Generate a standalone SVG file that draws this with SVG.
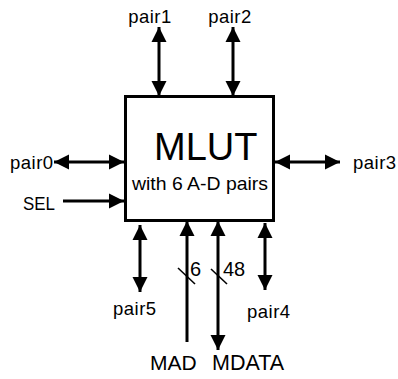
<svg xmlns="http://www.w3.org/2000/svg" width="398" height="379" viewBox="0 0 398 379">
  <style>
    .lbl { font-family: "Liberation Sans", Arial, sans-serif; fill: #000; }
    .pin { font-size: 18.5px; letter-spacing: 0.5px; }
    .wire { stroke: #000; stroke-width: 3; fill: none; }
    .slash { stroke: #000; stroke-width: 1.6; }
  </style>
  <defs>
    <marker id="head" markerUnits="userSpaceOnUse" markerWidth="16" markerHeight="16" viewBox="0 0 16 16" refX="15" refY="8" orient="auto-start-reverse">
      <path d="M0,0.5 L15,8 L0,15.5 Z" fill="#000"/>
    </marker>
  </defs>
  <rect width="398" height="379" fill="#fff"/>

  <g id="mlut">
    <rect x="125.5" y="96.5" width="148" height="124" fill="#fff" stroke="#000" stroke-width="3"/>
    <text class="lbl" x="154" y="160" font-size="38">MLUT</text>
    <text class="lbl" x="132" y="190" font-size="19" textLength="136" lengthAdjust="spacingAndGlyphs">with 6 A-D pairs</text>
  </g>

  <g id="connectors">
    <line class="wire" x1="159" y1="27" x2="159" y2="96" marker-start="url(#head)" marker-end="url(#head)"/>
    <line class="wire" x1="233" y1="27" x2="233" y2="96" marker-start="url(#head)" marker-end="url(#head)"/>
    <line class="wire" x1="54" y1="162" x2="124" y2="162" marker-start="url(#head)" marker-end="url(#head)"/>
    <line class="wire" x1="63" y1="201" x2="124" y2="201" marker-end="url(#head)"/>
    <line class="wire" x1="275" y1="162" x2="340" y2="162" marker-start="url(#head)" marker-end="url(#head)"/>
    <line class="wire" x1="140" y1="225" x2="140" y2="292" marker-start="url(#head)" marker-end="url(#head)"/>
    <line class="wire" x1="187" y1="221" x2="187" y2="342" marker-start="url(#head)"/>
    <line class="wire" x1="218" y1="221" x2="218" y2="350" marker-start="url(#head)" marker-end="url(#head)"/>
    <line class="wire" x1="265" y1="223" x2="265" y2="290" marker-start="url(#head)" marker-end="url(#head)"/>
    <line class="slash" x1="178" y1="268" x2="195" y2="284"/>
    <line class="slash" x1="211" y1="269" x2="227" y2="284"/>
  </g>

  <g id="pair1"><text class="lbl pin" x="150" y="23" text-anchor="middle">pair1</text></g>
  <g id="pair2"><text class="lbl pin" x="230" y="23" text-anchor="middle">pair2</text></g>
  <g id="pair0"><text class="lbl pin" x="10" y="169">pair0</text></g>
  <g id="sel"><text class="lbl" x="23" y="210" font-size="19" textLength="32" lengthAdjust="spacingAndGlyphs">SEL</text></g>
  <g id="pair3"><text class="lbl pin" x="353" y="169">pair3</text></g>
  <g id="pair5"><text class="lbl pin" x="113" y="315">pair5</text></g>
  <g id="pair4"><text class="lbl pin" x="247" y="318">pair4</text></g>
  <g id="mad">
    <text class="lbl" x="190" y="276" font-size="20">6</text>
    <text class="lbl" x="150" y="370" font-size="21">MAD</text>
  </g>
  <g id="mdata">
    <text class="lbl" x="223" y="276" font-size="20">48</text>
    <text class="lbl" x="212" y="370" font-size="21.5">MDATA</text>
  </g>
</svg>
